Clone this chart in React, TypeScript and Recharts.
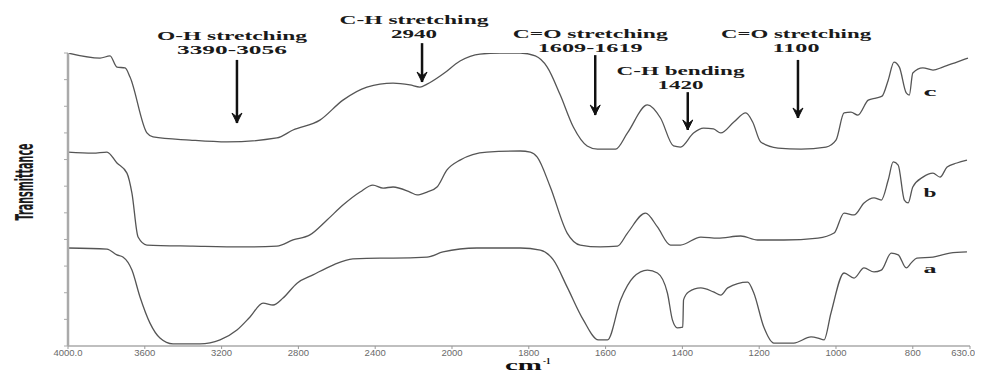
import React from "react";
import { LineChart, Line, XAxis, YAxis, ReferenceLine, ReferenceDot } from "recharts";

// ---- axis ticks (wavenumber, cm-1) ----
const tickWavenumbers = [4000, 3600, 3200, 2800, 2400, 2000, 1800, 1600, 1400, 1200, 1000, 800, 630];
const tickLabels = ["4000.0", "3600", "3200", "2800", "2400", "2000", "1800", "1600", "1400", "1200", "1000", "800", "630.0"];
const yTicks = [0, 10, 20, 30, 40, 50, 60, 70, 80, 90, 100, 110];

// ---- spectra: [wavenumber, transmittance (offset, arb. units)] ----
const curveA: [number, number][] = [
  [4000, 36.8], [3797, 36.4], [3745, 34.2], [3714, 33.4], [3667, 28.5], [3625, 18.4], [3573, 8.6], [3521, 3.0],
  [3453, 0.8], [3313, 0.8], [3208, 2.3], [3120, 6.0], [3052, 10.9], [2984, 16.1], [2932, 15.4], [2880, 18.0],
  [2807, 23.6], [2724, 26.7], [2620, 30.4], [2516, 32.7], [2375, 33.0], [2307, 33.0], [2130, 33.4], [2047, 35.3],
  [1935, 36.8], [1822, 36.8], [1770, 36.0], [1736, 32.3], [1700, 22.1], [1658, 9.8], [1619, 2.3], [1595, 2.3],
  [1561, 17.3], [1527, 25.9], [1491, 28.5], [1465, 27.4], [1439, 19.9], [1426, 9.8], [1413, 6.8], [1399, 7.1],
  [1397, 17.3], [1384, 20.3], [1352, 21.8], [1319, 20.3], [1300, 19.1], [1282, 21.8], [1230, 24.0], [1214, 19.9],
  [1188, 7.1], [1162, 1.1], [1110, 1.1], [1065, 3.4], [1047, 3.0], [1031, 2.3], [1013, 12.4], [979, 27.4],
  [953, 25.5], [927, 29.3], [901, 27.8], [882, 28.5], [856, 34.9], [838, 34.2], [817, 29.3], [804, 31.2],
  [788, 33.0], [740, 33.4], [690, 34.9], [639, 35.3],
];

const curveB: [number, number][] = [
  [4000, 72.8], [3870, 72.4], [3797, 72.8], [3745, 68.7], [3693, 64.9], [3667, 57.4], [3635, 40.9], [3589, 37.9],
  [3349, 37.5], [3089, 37.2], [2912, 37.5], [2828, 39.8], [2740, 41.7], [2651, 47.3], [2568, 52.9], [2479, 57.8],
  [2412, 60.4], [2359, 59.3], [2307, 59.7], [2219, 57.8], [2182, 56.7], [2130, 57.8], [2078, 59.7], [2026, 66.1],
  [1979, 69.8], [1909, 72.8], [1822, 73.2], [1796, 72.8], [1778, 70.9], [1744, 59.7], [1700, 42.4], [1666, 37.9],
  [1614, 37.2], [1569, 37.5], [1543, 42.4], [1496, 49.9], [1465, 44.7], [1431, 37.9], [1405, 37.9], [1352, 40.9],
  [1308, 40.5], [1248, 41.3], [1204, 39.8], [1136, 39.8], [1047, 40.5], [1005, 42.4], [979, 49.9], [953, 49.2],
  [927, 53.7], [901, 55.6], [882, 54.8], [864, 62.3], [851, 69.1], [838, 67.9], [822, 54.8], [812, 53.7],
  [800, 59.7], [770, 63.4], [740, 64.9], [719, 63.4], [698, 67.2], [669, 68.7], [639, 69.8],
];

const curveC: [number, number][] = [
  [4000, 110.0], [3833, 108.1], [3781, 108.9], [3745, 104.7], [3703, 104.4], [3677, 101.0], [3589, 80.0], [3557, 78.5],
  [3365, 77.3], [3172, 76.6], [2912, 78.1], [2828, 81.1], [2688, 84.8], [2568, 92.3], [2443, 97.2], [2307, 98.7],
  [2219, 98.0], [2167, 97.2], [2130, 98.3], [2047, 102.1], [1979, 107.0], [1927, 109.6], [1875, 110.0], [1822, 110.0],
  [1783, 108.9], [1752, 104.7], [1718, 94.2], [1684, 82.2], [1648, 75.1], [1621, 73.9], [1574, 73.9], [1543, 80.0],
  [1491, 90.5], [1457, 85.6], [1423, 75.1], [1405, 74.7], [1371, 80.0], [1345, 81.8], [1319, 81.5], [1300, 80.0],
  [1266, 84.1], [1235, 87.5], [1217, 84.1], [1196, 76.6], [1151, 74.3], [1091, 73.9], [1026, 74.7], [1000, 77.3],
  [979, 87.5], [961, 87.8], [943, 86.7], [916, 92.3], [896, 93.1], [880, 93.8], [864, 99.8], [849, 106.6],
  [835, 104.7], [817, 95.0], [809, 94.2], [800, 102.5], [770, 104.4], [740, 103.6], [711, 104.7], [669, 106.6],
  [636, 108.1],
];

// ---- series labels ----
const seriesNames = ["a", "b", "c"];
const seriesLabelAt: [number, number][] = [[749, 28.9], [749, 57.4], [749, 95.3]];

// ---- band annotations ----
const bandTitles = ["O-H stretching", "C-H stretching", "C=O stretching", "C-H bending", "C=O stretching"];
const bandValues = ["3390-3056", "2940", "1609-1619", "1420", "1100"];
// layout of each annotation: text centre wavenumber, arrow wavenumber, title y, arrow top y, arrow tip y
const bandLayout = [
  { textWn: 3146, arrowWn: 3120, titleY: 116.7, top: 107.4, tip: 83.7, w1: 150, w2: 110 },
  { textWn: 2198, arrowWn: 2156, titleY: 122.4, top: 113.7, tip: 99.1, w1: 149, w2: 46 },
  { textWn: 1640, arrowWn: 1627, titleY: 117.5, top: 109.2, tip: 86.7, w1: 155, w2: 105 },
  { textWn: 1405, arrowWn: 1386, titleY: 103.6, top: 95.3, tip: 81.1, w1: 128, w2: 46 },
  { textWn: 1104, arrowWn: 1099, titleY: 117.5, top: 107.4, tip: 85.6, w1: 150, w2: 47 },
];

// Broken wavenumber axis: 400 cm-1 per division above 2000, 200 cm-1 per division below
const LAST_SEG = 0.745;
const toX = (wn: number) =>
  wn >= 2000 ? (4000 - wn) / 400 : wn >= 800 ? 5 + (2000 - wn) / 200 : 11 + ((800 - wn) / 170) * LAST_SEG;

const xTicks = tickWavenumbers.map(toX);
const XMAX = toX(630);

const toSeries = (c: [number, number][]) => c.map(([wn, t]) => ({ x: toX(wn), t }));
const dataA = toSeries(curveA);
const dataB = toSeries(curveB);
const dataC = toSeries(curveC);

const SERIF = "Liberation Serif, Times New Roman, serif";
const LINE_COLOR = "#555";
const boldSerif = (size: number): React.CSSProperties => ({
  fontFamily: SERIF,
  fontWeight: 700,
  fontSize: size,
});

const tickIndex = (v: number) => xTicks.findIndex((t) => Math.abs(t - v) < 1e-6);

const XTick = (props: any) => {
  const { x, y, payload } = props;
  const i = tickIndex(payload.value);
  const last = i === xTicks.length - 1;
  return (
    <text
      x={last ? x + 5 : x}
      y={y}
      dy="0.71em"
      textAnchor={last ? "end" : "middle"}
      fontSize={9.5}
      fill="#6a6a6a"
      fontFamily="Liberation Sans, Arial, sans-serif"
    >
      {i >= 0 ? tickLabels[i] : ""}
    </text>
  );
};

export default function App() {
  return (
    <div style={{ width: 967, height: 366 }}>
      <LineChart width={967} height={366} margin={{ top: 45, right: 5, bottom: 3, left: 50 }}>
        <XAxis
          type="number"
          dataKey="x"
          domain={[0, XMAX]}
          allowDataOverflow
          ticks={xTicks}
          interval={0}
          height={25}
          tickSize={3}
          tickMargin={0}
          axisLine={{ stroke: "#aaa", strokeWidth: 1.5 }}
          tickLine={{ stroke: "#999" }}
          tick={<XTick />}
        />
        <YAxis
          type="number"
          domain={[0, 110]}
          allowDataOverflow
          ticks={yTicks}
          interval={0}
          width={10}
          tickSize={4}
          tickFormatter={() => ""}
          axisLine={{ stroke: "#aaa", strokeWidth: 2.5 }}
          tickLine={{ stroke: "#aaa" }}
        />
        <Line data={dataA} dataKey="t" type="monotone" stroke={LINE_COLOR} strokeWidth={1.3} dot={false} isAnimationActive={false} />
        <Line data={dataB} dataKey="t" type="monotone" stroke={LINE_COLOR} strokeWidth={1.3} dot={false} isAnimationActive={false} />
        <Line data={dataC} dataKey="t" type="monotone" stroke={LINE_COLOR} strokeWidth={1.3} dot={false} isAnimationActive={false} />

        {bandLayout.map((b, i) => (
          <ReferenceLine
            key={"shaft" + i}
            segment={[{ x: toX(b.arrowWn), y: b.top }, { x: toX(b.arrowWn), y: b.tip }]}
            stroke="#111"
            strokeWidth={2.5}
            ifOverflow="visible"
          />
        ))}
        {bandLayout.map((b, i) => (
          <ReferenceDot
            key={"head" + i}
            x={toX(b.arrowWn)}
            y={b.tip}
            ifOverflow="visible"
            shape={(p: any) => (
              <path
                d={`M${p.cx - 5},${p.cy - 10} L${p.cx},${p.cy} L${p.cx + 5},${p.cy - 10} L${p.cx},${p.cy - 6} Z`}
                fill="#111"
                stroke="#111"
                strokeWidth={1}
              />
            )}
          />
        ))}
        {bandLayout.map((b, i) => (
          <ReferenceDot
            key={"text" + i}
            x={toX(b.textWn)}
            y={b.titleY}
            ifOverflow="visible"
            shape={(p: any) => (
              <g>
                <text x={p.cx} y={p.cy} textAnchor="middle" dominantBaseline="central" style={boldSerif(13)} fill="#1a1a1a" textLength={b.w1} lengthAdjust="spacingAndGlyphs">
                  {bandTitles[i]}
                </text>
                <text x={p.cx} y={p.cy + 14} textAnchor="middle" dominantBaseline="central" style={boldSerif(13)} fill="#1a1a1a" textLength={b.w2} lengthAdjust="spacingAndGlyphs">
                  {bandValues[i]}
                </text>
              </g>
            )}
          />
        ))}
        {seriesLabelAt.map(([wn, t], i) => (
          <ReferenceDot
            key={"name" + i}
            x={toX(wn)}
            y={t}
            ifOverflow="visible"
            shape={(p: any) => (
              <text x={p.cx} y={p.cy} textAnchor="middle" dominantBaseline="central" style={boldSerif(12)} fill="#1a1a1a" textLength={13} lengthAdjust="spacingAndGlyphs">
                {seriesNames[i]}
              </text>
            )}
          />
        ))}
        {/* y axis title */}
        <ReferenceDot
          x={0}
          y={61.6}
          ifOverflow="visible"
          shape={(p: any) => (
            <text
              transform={`translate(${p.cx - 35},${p.cy}) rotate(-90)`}
              x={0}
              y={0}
              textAnchor="middle"
              textLength={77}
              lengthAdjust="spacingAndGlyphs"
              style={{ fontFamily: "Liberation Sans Narrow, DejaVu Sans Condensed, Liberation Sans, sans-serif", fontWeight: 700, fontSize: 24 }}
              fill="#1a1a1a"
            >
              Transmittance
            </text>
          )}
        />
        {/* x axis title */}
        <ReferenceDot
          x={toX(1802)}
          y={-7.5}
          ifOverflow="visible"
          shape={(p: any) => (
            <g>
              <text x={p.cx - 23} y={p.cy} dominantBaseline="central" style={boldSerif(14)} fill="#111" textLength={37} lengthAdjust="spacingAndGlyphs">
                cm
              </text>
              <text x={p.cx + 15} y={p.cy - 5} dominantBaseline="central" style={boldSerif(9)} fill="#111">
                -1
              </text>
            </g>
          )}
        />
      </LineChart>
    </div>
  );
}
